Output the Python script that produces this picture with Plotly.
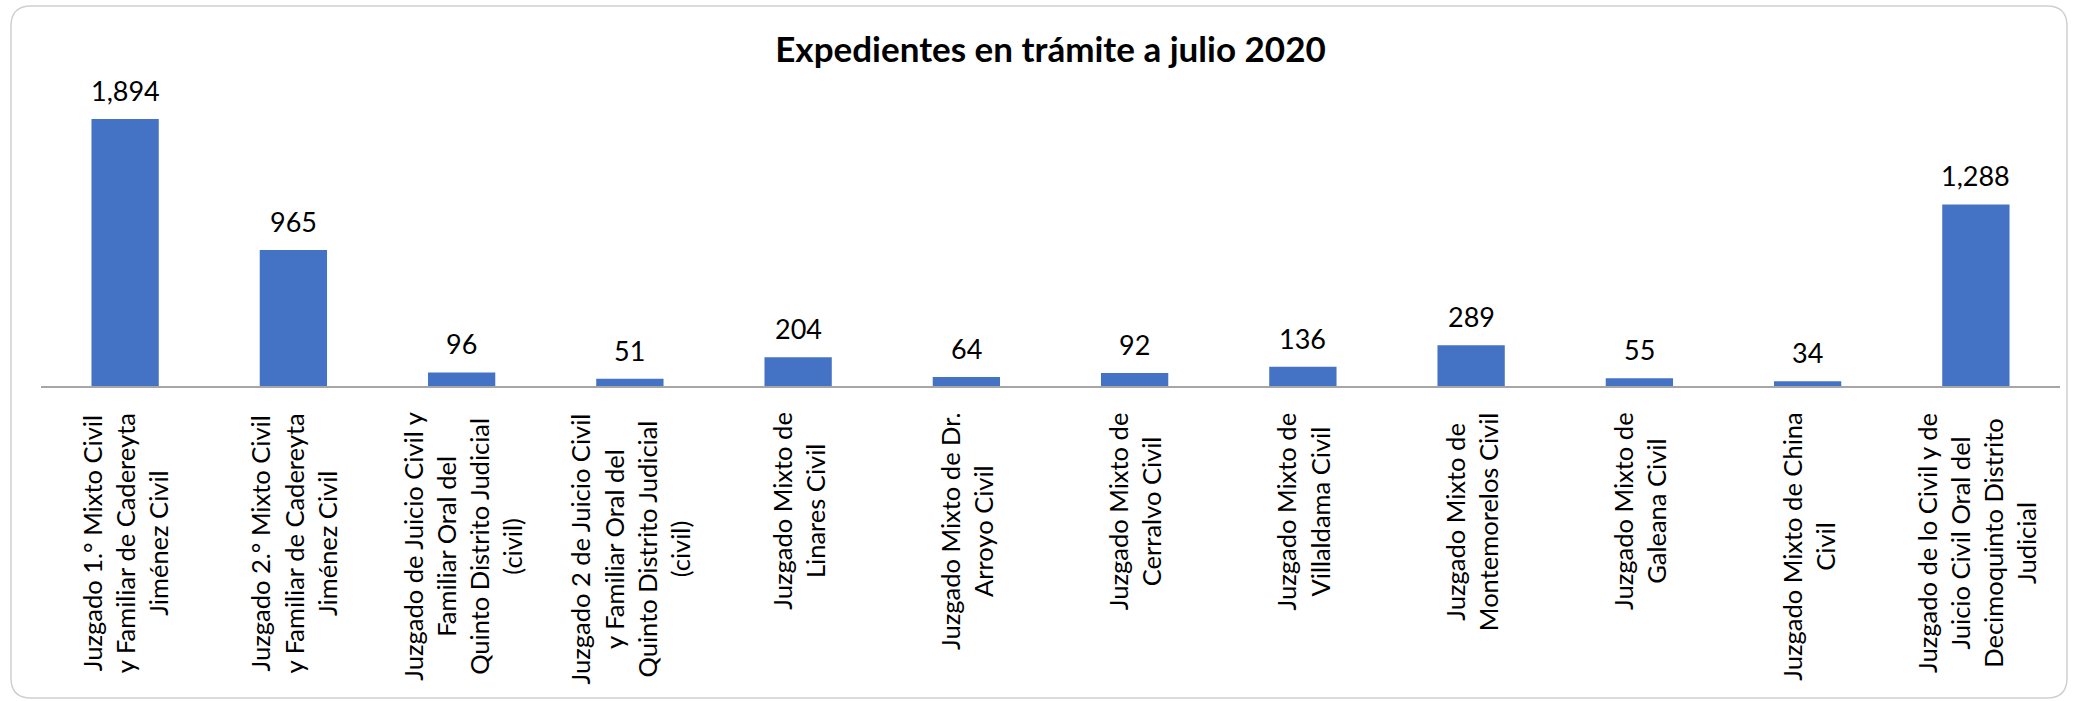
import plotly.graph_objects as go

# Datos: expedientes en trámite a julio 2020
juzgados = [
    "Juzgado 1.° Mixto Civil<br>y Familiar de Cadereyta<br>Jiménez Civil",
    "Juzgado 2.° Mixto Civil<br>y Familiar de Cadereyta<br>Jiménez Civil",
    "Juzgado de Juicio Civil y<br>Familiar Oral del<br>Quinto Distrito Judicial<br>(civil)",
    "Juzgado 2 de Juicio Civil<br>y Familiar Oral del<br>Quinto Distrito Judicial<br>(civil)",
    "Juzgado Mixto de<br>Linares Civil",
    "Juzgado Mixto de Dr.<br>Arroyo Civil",
    "Juzgado Mixto de<br>Cerralvo Civil",
    "Juzgado Mixto de<br>Villaldama Civil",
    "Juzgado Mixto de<br>Montemorelos Civil",
    "Juzgado Mixto de<br>Galeana Civil",
    "Juzgado Mixto de China<br>Civil",
    "Juzgado de lo Civil y de<br>Juicio Civil Oral del<br>Decimoquinto Distrito<br>Judicial",
]
expedientes = [1894, 965, 96, 51, 204, 64, 92, 136, 289, 55, 34, 1288]

TITLE = "Expedientes en trámite a julio 2020"
BAR_COLOR = "#4472C4"
W, H = 2074, 701
M_L, M_R, M_T, M_B = 41, 14, 104, 315

fig = go.Figure(
    go.Bar(
        x=juzgados,
        y=expedientes,
        marker=dict(color=BAR_COLOR, line=dict(width=0)),
        hoverinfo="x+y",
    )
)

# etiquetas de valor
for j, v in zip(juzgados, expedientes):
    fig.add_annotation(
        x=j, y=v, xref="x", yref="y",
        text=f"{v:,}", showarrow=False,
        xanchor="center", yanchor="bottom", yshift=10,
        font=dict(family="Lato, sans-serif", size=27, color="#000000"),
    )

# etiquetas de categoría (rotadas, centradas por línea)
for j in juzgados:
    fig.add_annotation(
        x=j, y=0, xref="x", yref="paper",
        text=j, showarrow=False, textangle=-90, align="center",
        xanchor="center", yanchor="top", yshift=-25,
        font=dict(family="Lato, sans-serif", size=25.5, color="#000000"),
    )

# borde redondeado del gráfico (en coordenadas paper)
pw, ph = W - M_L - M_R, H - M_T - M_B
def px2x(p): return (p - M_L) / pw
def py2y(p): return (H - M_B - p) / ph
x0, x1, y0, y1, r = 11, 2067, 6, 698, 20
path = (
    f"M {px2x(x0 + r)},{py2y(y0)} L {px2x(x1 - r)},{py2y(y0)} "
    f"Q {px2x(x1)},{py2y(y0)} {px2x(x1)},{py2y(y0 + r)} "
    f"L {px2x(x1)},{py2y(y1 - r)} Q {px2x(x1)},{py2y(y1)} {px2x(x1 - r)},{py2y(y1)} "
    f"L {px2x(x0 + r)},{py2y(y1)} Q {px2x(x0)},{py2y(y1)} {px2x(x0)},{py2y(y1 - r)} "
    f"L {px2x(x0)},{py2y(y0 + r)} Q {px2x(x0)},{py2y(y0)} {px2x(x0 + r)},{py2y(y0)} Z"
)
fig.add_shape(type="path", path=path, xref="paper", yref="paper",
              line=dict(color="#D0D0D0", width=1.5), layer="below")

fig.update_layout(
    width=W, height=H,
    title=dict(
        text=f"<b>{TITLE}</b>", x=0.5, xref="paper", xanchor="center",
        y=1 - 50 / H, yanchor="middle",
        font=dict(family="Lato, sans-serif", size=35, color="#000000"),
    ),
    paper_bgcolor="#FFFFFF",
    plot_bgcolor="#FFFFFF",
    margin=dict(l=M_L, r=M_R, t=M_T, b=M_B),
    bargap=0.6,
    showlegend=False,
    xaxis=dict(
        showticklabels=False, ticks="", showgrid=False, zeroline=False,
        showline=True, linecolor="#A6A6A6", linewidth=1.5,
    ),
    yaxis=dict(range=[0, 2000], visible=False, showgrid=False),
)

# sin margen del body para que el gráfico ocupe la ventana completa
fig.write_html(
    "out.html",
    config={"displayModeBar": False},
    post_script="document.body.style.margin='0';",
)
